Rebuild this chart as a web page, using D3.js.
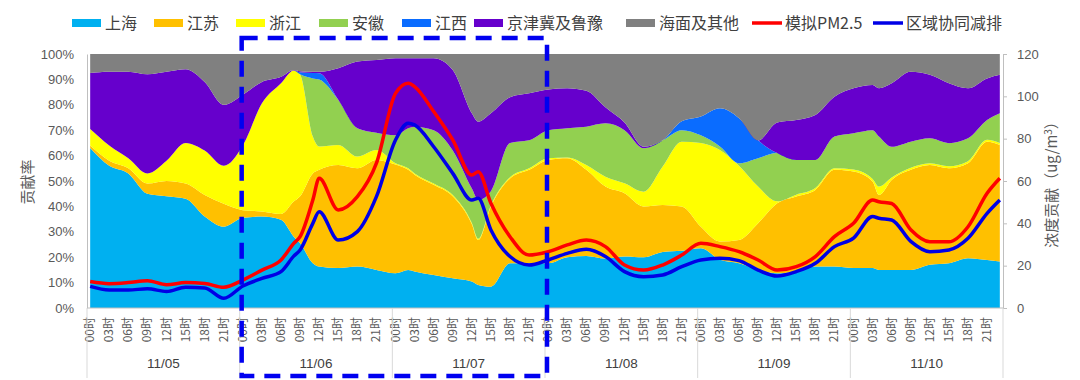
<!DOCTYPE html>
<html><head><meta charset="utf-8">
<script src="https://cdn.jsdelivr.net/npm/d3@7"></script>
<style>
body{margin:0;background:#fff;}
svg{display:block;font-family:"Noto Sans CJK SC","Noto Sans",sans-serif;}
</style></head><body>
<svg id="c" width="1080" height="380"></svg>
<script>
// ---- data ----
const hours = [0,3,6,9,12,15,18,21, 24,27,30,32,33,35,36,39,42,45, 48,50,51,54,57,60,61,63,66,69,
  72,75,78,81,84,87,90,93, 96,99,102,105,108,111,114,117, 120,123,124,126,129,132,135,138,141,143];
const days = ["11/05","11/06","11/07","11/08","11/09","11/10"];
const tickHours = d3.range(0, 144, 3);
const pctTicks = [0,10,20,30,40,50,60,70,80,90,100];
const valTicks = [0,20,40,60,80,100,120];

const shanghai = [63,56,53,45,44,43,36,32,
  35.5,36,34.7,28.1,25.5,17.6,16.3,15.7,16.3,15,
  13.7,15,14.4,13,11.7,10.4,9.1,8.4,17.6,17.6,
  17.6,20,20.5,19.5,20.3,20,22,22.5,
  23.5,19,17.6,15,13.7,14.4,16.3,16.3,
  15.7,15.7,15,15,15,17,17.6,19.6,18.9,18.3];
const jiangsu = [1,2,2,4,6,6,8.5,9,
  3,2,2.3,13.8,18.5,35.4,38.1,40.6,38.7,43.3,
  42.8,39.4,38.1,35.5,32.3,22.6,17.7,31.6,33.4,36.8,
  40.7,39,33.9,28.3,24.9,20,18.6,17.5,
  8.5,7.2,9.2,18.4,27.5,29.5,30.2,38.1,
  38,34.1,29.5,35.4,39.4,39.3,37.4,37.4,46.6,45.9];
const zhejiang = [6.5,6,4,4,8,16,17.5,15,
  25.5,42.6,51.5,51.6,47.8,14.5,9.2,7.9,4.6,3.9,
  0.5,0.6,0.5,0.5,0.5,0.5,0.5,0.5,0.5,0.6,
  0.7,0.3,1.9,3.9,3.9,5.8,15.1,25.5,
  33,36,29.2,14.4,0.8,0.7,0.7,0.6,
  0.8,1,3.3,1,0.8,0.7,0.8,0.8,0.7,0.8];
const anhui = [0,0,0,0,0,0,0,0,
  0,0,0,0,0.2,22.9,26.4,17.8,11.2,6.8,
  11,15.8,18.4,21,17.5,13.5,15.3,5.5,13.5,11,
  11,11.5,15.1,21,20.9,17.1,10.3,4.5,
  3,1.4,1,11.2,19,13.7,11.1,12.5,
  14.3,19.2,19.7,12.1,10.3,9.8,9.1,9,7.8,11.7];
const jiangxi = [0,0,0,0,0,0,0,0,
  0,0,0,0,0.8,2.1,2.4,0,0,0,
  0,0,0,0,0,0,0,0,0,0,
  0,0,0,0,0,0,0,3.5,
  7.4,15,17.7,7,0,0,0,0,
  0,0,0,0,0,0,0,0,0,0];
const jingjinji = [22,29,34,39,35,29,27,24,
  20,8.4,2.5,0.2,0.4,0.5,0.6,12.4,26.2,28.6,
  30.3,27.5,26.9,28.3,31.7,29.7,30.8,30.7,18,18.5,
  16,15.7,14.1,6.3,3,0.6,0,0,
  0,0,0,0,12,15.7,17.7,15.7,
  17.7,17.8,19,25,27.5,25,23.6,19.7,16.4,15.1];
const haimian = [7.5,7,7,8,7,6,11,20,
  16,11,9,6.3,6.8,7,7,5.6,3,2.4,
  1.7,1.7,1.7,1.7,6.3,23.3,26.6,23.3,17,15.5,
  14,13.5,14.5,21,27,36.5,34,26.5,
  24.6,21.4,25.3,34,27,26,24,16.8,
  13.5,12.2,13.5,11.5,7,8.2,11.5,13.5,9.6,8.2];
const pm25 = [12.5,11.5,12,12.9,11,12,11.6,9.8,
  13.2,17.9,22.7,30.5,33.7,51,61.3,46.3,52.6,68.4,
  101.4,106.2,104.6,92.8,79.4,62.8,64.4,49.5,33.7,25,
  26.6,29.8,32.1,29,20.3,17.9,20.3,25,
  30.6,29,26.6,22.7,17.9,19.5,24.3,33.7,
  40,51,50.2,49.4,37,31.3,31.3,38.4,54.2,61.3];
const reduce = [10.2,8.5,8.5,9.1,7.8,9.8,9.5,4.6,
  10.4,14,17.2,24.5,27.4,40,45.5,32.1,36.1,52.6,
  79.4,87.3,86.5,76.2,63.6,51,51.8,36.9,24.3,20.3,
  22.7,25.8,27.7,24.3,17.2,14.8,15.6,19.5,
  22.7,23.5,22.4,17.9,15.1,17.2,21.1,29,
  33,43.2,42.4,41.6,31.5,26.6,27.4,32.9,44.7,51];

const areaNames = ["上海","江苏","浙江","安徽","江西","京津冀及鲁豫","海面及其他"];
const areaValues = [shanghai, jiangsu, zhejiang, anhui, jiangxi, jingjinji, haimian];
const areaColors = ["#00B0F0","#FFC000","#FFFF00","#92D050","#0A6CFF","#6600CC","#808080"];
const lineNames = ["模拟PM2.5","区域协同减排"];
const lineColors = ["#FF0000","#0000E6"];

// ---- layout ----
const L = 87, R = 1003, T = 54, B = 308;
const svg = d3.select("#c");
const x = d3.scaleLinear().domain([-0.5, 143.5]).range([L, R]);
const yP = d3.scaleLinear().domain([0, 100]).range([B, T]);
const yV = d3.scaleLinear().domain([0, 120]).range([B, T]);

const rows = hours.map((h, i) => {
  const o = {h};
  areaNames.forEach((n, k) => o[n] = areaValues[k][i]);
  return o;
});
const stack = d3.stack().keys(areaNames)(rows);
const area = d3.area().x(d => x(d.data.h)).y0(d => yP(d[0])).y1(d => yP(d[1])).curve(d3.curveMonotoneX);
svg.append("g").selectAll("path").data(stack).join("path")
  .attr("d", area).attr("fill", (d, i) => areaColors[i]);

// axes
const gl = svg.append("g").attr("transform", `translate(${L},0)`)
  .call(d3.axisLeft(yP).tickValues(pctTicks).tickFormat(d => d + "%").tickSize(0).tickPadding(13));
const gr = svg.append("g").attr("transform", `translate(${R},0)`)
  .call(d3.axisRight(yV).tickValues(valTicks).tickSize(4).tickPadding(10));
[gl, gr].forEach(g => {
  g.select(".domain").attr("stroke", "#BFBFBF");
  g.selectAll(".tick line").attr("stroke", "#BFBFBF");
  g.selectAll(".tick text").attr("fill", "#595959").style("font-size", "13px")
    .style("font-family", "'Liberation Sans',Arial,sans-serif");
});
svg.append("line").attr("x1", L).attr("x2", R).attr("y1", B).attr("y2", B).attr("stroke", "#BFBFBF");

// lines
const line = d3.line().x((d, i) => x(hours[i])).y(d => yV(d)).curve(d3.curveMonotoneX);
[pm25, reduce].forEach((s, k) => {
  svg.append("path").datum(s).attr("d", line).attr("fill", "none")
    .attr("stroke", lineColors[k]).attr("stroke-width", 3.5).attr("stroke-linejoin", "round");
});

// x labels
const gx = svg.append("g");
gx.selectAll("text.h").data(tickHours).join("text").attr("class", "h")
  .attr("transform", h => `translate(${x(h) + 4},317) rotate(-90)`)
  .attr("text-anchor", "end").attr("fill", "#595959").style("font-size", "12px")
  .text(h => String(h % 24).padStart(2, "0") + "时");
gx.selectAll("line.d").data(d3.range(0, days.length + 1)).join("line").attr("class", "d")
  .attr("x1", i => x(i * 24 - 0.5)).attr("x2", i => x(i * 24 - 0.5))
  .attr("y1", B).attr("y2", 378).attr("stroke", "#D9D9D9");
gx.selectAll("text.day").data(days).join("text").attr("class", "day")
  .attr("x", (d, i) => x(i * 24 + 11.5)).attr("y", 368).attr("text-anchor", "middle")
  .attr("fill", "#404040").style("font-size", "13.5px")
  .style("font-family", "'Liberation Sans',Arial,sans-serif").text(d => d);

// axis titles
svg.append("text").attr("transform", "translate(33,182) rotate(-90)").attr("text-anchor", "middle")
  .attr("fill", "#595959").style("font-size", "15px").text("贡献率");
const rt = svg.append("text").attr("transform", "translate(1057,181) rotate(-90)").attr("text-anchor", "middle")
  .attr("fill", "#595959").style("font-size", "15px");
rt.append("tspan").text("浓度贡献（ug/m");
rt.append("tspan").attr("dy", -5).style("font-size", "10px").text("3");
rt.append("tspan").attr("dy", 5).text("）");

// legend
const legX = [72, 154, 236, 319, 402, 474, 626, 752, 873];
const lg = svg.append("g");
areaNames.forEach((n, i) => {
  lg.append("rect").attr("x", legX[i]).attr("y", 19).attr("width", 29).attr("height", 8).attr("fill", areaColors[i]);
  lg.append("text").attr("x", legX[i] + 33).attr("y", 29).attr("fill", "#404040").style("font-size", "16px").text(n);
});
lineNames.forEach((n, k) => {
  const lx = legX[7 + k];
  lg.append("line").attr("x1", lx).attr("x2", lx + 30).attr("y1", 23).attr("y2", 23)
    .attr("stroke", lineColors[k]).attr("stroke-width", 3.5);
  lg.append("text").attr("x", lx + 33).attr("y", 29).attr("fill", "#404040").style("font-size", "16px").text(n);
});

// dashed highlight box around 11/06-11/07
svg.append("rect").attr("x", x(23.5) + 2).attr("y", 38).attr("width", x(71.5) - x(23.5)).attr("height", 338)
  .attr("fill", "none").attr("stroke", "#0000F0").attr("stroke-width", 4.5).attr("stroke-dasharray", "16,10");
</script></body></html>
